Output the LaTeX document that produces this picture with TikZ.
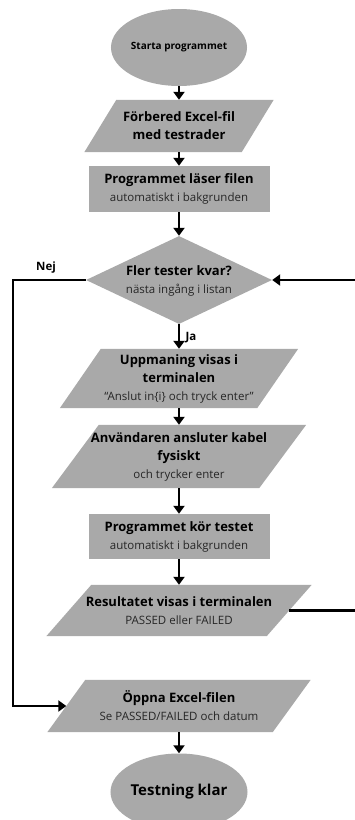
\documentclass[tikz,border=0pt]{standalone}
\usepackage{fontspec}
\setmainfont{Open Sans}
\usetikzlibrary{shapes.geometric,arrows.meta,backgrounds,calc}

\definecolor{boxgray}{HTML}{A9A9A9}
\definecolor{subtext}{HTML}{262626}

% gray parallelogram behind a named box, plus mid-points of its slanted sides
\newcommand\slantfill[2]{%
  \begin{scope}[on background layer]
    \fill[boxgray] (#1.south west) -- ([xshift=-#2]#1.south east)
      -- (#1.north east) -- ([xshift=#2]#1.north west) -- cycle;
  \end{scope}
  \coordinate (#1-l) at ([xshift=#2/2]#1.west);
  \coordinate (#1-r) at ([xshift=-#2/2]#1.east);
}

\tikzset{
  base/.style={inner sep=0pt, align=center, text=black,
    font=\fontsize{13}{18}\selectfont\bfseries},
  terminal/.style={base, shape=ellipse, fill=boxgray,
    minimum width=110pt, minimum height=77pt},
  process/.style={base, shape=rectangle, fill=boxgray,
    minimum width=181pt, minimum height=46pt},
  decision/.style={shape=diamond, fill=boxgray, inner sep=0pt,
    minimum width=186pt, minimum height=88pt},
  iobox/.style={base, shape=rectangle},
  flow/.style={line width=2.6pt, -{Triangle[width=11pt,length=8pt]}},
  edgelabel/.style={font=\fontsize{11.5}{13}\selectfont\bfseries, text=black},
}
\newcommand\sub[1]{{\fontsize{11.5}{18}\selectfont\mdseries\color{subtext}#1}}

\begin{document}
\begin{tikzpicture}[x=1pt, y=-1pt]
  \useasboundingbox (0,0) rectangle (355,820);
  \clip (0,0) rectangle (355,820);

  \node[terminal, font=\fontsize{10}{12}\selectfont\bfseries] (start) at (179,47.5) {Starta programmet};

  \node[iobox, minimum width=189pt, minimum height=52pt] (prep) at (179,126)
    {Förbered Excel-fil\\med testrader};
  \slantfill{prep}{32pt}

  \node[process] (read) at (179,189) {Programmet läser filen\\\sub{automatiskt i bakgrunden}};

  \node[decision] (more) at (179,280) {};
  \node[base] (moretext) at (179,281) {Fler tester kvar?\\\sub{nästa ingång i listan}};

  \node[iobox, minimum width=238pt, minimum height=59pt] (prompt) at (179,378.5)
    {Uppmaning visas i\\terminalen\\\sub{“Anslut in\{i\} och tryck enter”}};
  \slantfill{prompt}{41pt}

  \node[iobox, minimum width=254pt, minimum height=63pt] (connect) at (179,456.5)
    {Användaren ansluter kabel\\fysiskt\\\sub{och trycker enter}};
  \slantfill{connect}{47pt}

  \node[process, minimum height=45pt] (run) at (179,536.5) {Programmet kör testet\\\sub{automatiskt i bakgrunden}};

  \node[iobox, minimum width=265pt, minimum height=51pt] (result) at (179,610.5)
    {Resultatet visas i terminalen\\\sub{PASSED eller FAILED}};
  \slantfill{result}{45pt}

  \node[iobox, minimum width=263pt, minimum height=52pt] (open) at (179,706)
    {Öppna Excel-filen\\\sub{Se PASSED/FAILED och datum}};
  \slantfill{open}{38pt}

  \node[terminal, font=\fontsize{15}{18}\selectfont\bfseries] (done) at (179,792) {Testning klar};

  % side rails of the loop
  \coordinate (railL) at (13,0);
  \coordinate (railR) at (364,0);

  % main flow
  \draw[flow] (start) -- (prep);
  \draw[flow] (prep) -- (read);
  \draw[flow] (read) -- (more);
  \draw[flow] (more) -- node[edgelabel, right=2pt, pos=0.55] (ja) {Ja} (prompt);
  \draw[flow] (prompt) -- (connect);
  \draw[flow] (connect) -- (run);
  \draw[flow] (run) -- (result);
  \draw[flow] (open) -- (done);

  % back to the decision for the next test
  \draw[flow] (result-r) -- (result-r -| railR) |- (more.east);

  % no tests left
  \draw[flow] (more.west) -- (more.west -| railL) |- (open-l);
  \node[edgelabel] (nej) at (46,268) {Nej};
\end{tikzpicture}
\end{document}
